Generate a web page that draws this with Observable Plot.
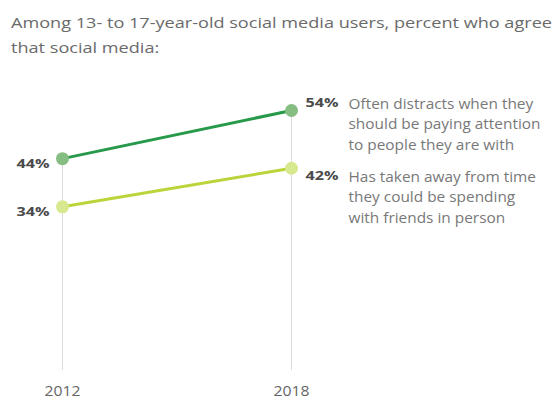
<!DOCTYPE html>
<html>
<head>
<meta charset="utf-8">
<script src="https://cdn.jsdelivr.net/npm/d3@7"></script>
<script src="https://cdn.jsdelivr.net/npm/@observablehq/plot@0.6"></script>
<style>
  html, body { margin: 0; padding: 0; background: #fff; }
  body { width: 559px; height: 401px; overflow: hidden; font-family: "Open Sans", sans-serif; }
  #title { color: #6a6a6a; font-size: 15px; line-height: 25px; padding: 10px 0 0 11px; height: 58px; box-sizing: content-box; white-space: nowrap; }
  #title span { display: inline-block; transform-origin: 0 50%; }
  #chart svg { display: block; overflow: visible; }
</style>
</head>
<body>
<div id="title"><span>Among 13- to 17-year-old social media users, percent who agree</span><br><span>that social media:</span></div>
<div id="chart"></div>
<script>
const years = [2012, 2018];
const seriesNames = ["distracts", "timeaway"];
const distracts = [44, 54];
const timeaway = [34, 42];
const descriptions = [
  "Often distracts when they\nshould be paying attention\nto people they are with",
  "Has taken away from time\nthey could be spending\nwith friends in person"
];
const lineColors = ["#27994a", "#b9d53a"];
const dotColors = ["#86bd82", "#d7e98e"];

const rows = [];
seriesNames.forEach((s, i) => {
  const vals = i === 0 ? distracts : timeaway;
  years.forEach((y, j) => rows.push({series: s, year: y, value: vals[j], idx: i}));
});
const maxByYear = years.map((y, j) => ({year: y, top: Math.max(distracts[j], timeaway[j])}));
const left = rows.filter(d => d.year === 2012);
const rightTop = rows.filter(d => d.year === 2018 && d.idx === 0);
const rightBot = rows.filter(d => d.year === 2018 && d.idx === 1);

const pctStyle = {fontSize: 12.5, fontWeight: "bold", fill: "#4a4a4a", className: "pct"};
const descStyle = {textAnchor: "start", lineAnchor: "top", dx: 57, fontSize: 14, lineHeight: 1.46, fill: "#787878", className: "desc"};

const chart = Plot.plot({
  width: 559,
  height: 333,
  marginLeft: 62,
  marginRight: 268,
  marginTop: 42,
  marginBottom: 31,
  style: {fontFamily: "'Open Sans', sans-serif", background: "#fff", overflow: "visible"},
  x: {domain: [2012, 2018], axis: null},
  y: {domain: [0, 54], axis: null},
  marks: [
    Plot.ruleX(maxByYear, {x: "year", y1: 0, y2: "top", stroke: "#dcdcdc", strokeWidth: 1}),
    Plot.axisX(years, {tickSize: 0, tickPadding: 16, tickFormat: "d", fontSize: 14, fill: "#666", stroke: null, label: null, className: "yr"}),
    Plot.line(rows, {x: "year", y: "value", z: "series", stroke: d => lineColors[d.idx], strokeWidth: 3}),
    Plot.dot(rows, {x: "year", y: "value", r: 6.5, fill: d => dotColors[d.idx], stroke: "none"}),
    Plot.text(left, {x: "year", y: "value", text: d => d.value + "%", textAnchor: "end", dx: -13, dy: 5, ...pctStyle}),
    Plot.text(rightTop, {x: "year", y: "value", text: d => d.value + "%", textAnchor: "start", dx: 14, dy: -8, ...pctStyle}),
    Plot.text(rightBot, {x: "year", y: "value", text: d => d.value + "%", textAnchor: "start", dx: 14, dy: 8, ...pctStyle}),
    Plot.text(rightTop, {x: "year", y: "value", text: d => descriptions[d.idx], dy: -16, ...descStyle}),
    Plot.text(rightBot, {x: "year", y: "value", text: d => descriptions[d.idx], dy: -1, ...descStyle})
  ]
});
document.getElementById("chart").appendChild(chart);

// The reference glyphs are horizontally wider than the installed fonts: stretch text to match.
function stretch(selector, factor, target) {
  chart.querySelectorAll(selector).forEach(t => {
    const parts = t.querySelectorAll("tspan");
    (parts.length ? Array.from(parts) : [t]).forEach(el => {
      const w = el.getComputedTextLength();
      const len = target ? target : w * factor;
      el.setAttribute("textLength", len.toFixed(1));
      el.setAttribute("lengthAdjust", "spacingAndGlyphs");
    });
  });
}
stretch(".desc text", 1.1);
stretch(".pct text", 1, 33);
stretch(".yr text", 1, 36);

const tspans = document.querySelectorAll("#title span");
const w0 = tspans[0].getBoundingClientRect().width;
const k = 541 / w0;
tspans.forEach(s => s.style.transform = `scaleX(${k})`);
</script>
</body>
</html>
